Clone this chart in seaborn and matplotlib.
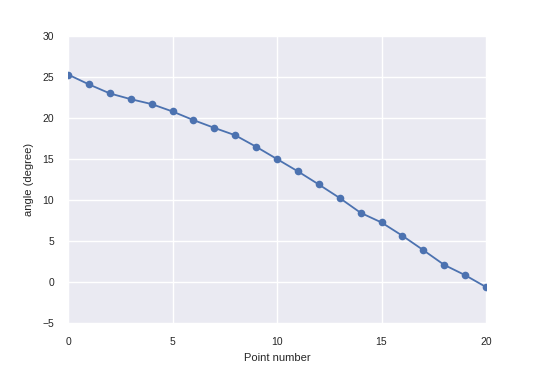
import matplotlib
matplotlib.use("Agg")
import matplotlib.pyplot as plt
import seaborn as sns
import pandas as pd

point_number = list(range(21))
angle = [25.3, 24.1, 23.0, 22.3, 21.7, 20.8, 19.75, 18.8, 17.9, 16.5, 15.0,
         13.5, 11.9, 10.25, 8.45, 7.27, 5.65, 3.9, 2.1, 0.85, -0.6]

sns.set_theme(style="darkgrid", rc={"axes.facecolor": "#EAEAF2"})
plt.rcParams['font.family'] = ['Liberation Sans', 'DejaVu Sans']

df = pd.DataFrame({"Point number": point_number, "angle (degree)": angle})

fig = plt.figure(figsize=(5.40, 3.71), dpi=100)
ax = fig.add_axes([0.126, 0.129, 0.774, 0.774])
sns.lineplot(data=df, x="Point number", y="angle (degree)", ax=ax,
             color="#4C72B0", linewidth=1.3, marker="o", markersize=5.5,
             markeredgewidth=0)
ax.set_xlim(0, 20)
ax.set_ylim(-5, 30)
ax.set_xticks([0, 5, 10, 15, 20])
ax.set_yticks([-5, 0, 5, 10, 15, 20, 25, 30])
ax.tick_params(labelsize=7.5, colors="#262626", pad=4)
ax.set_xlabel("Point number", fontsize=8, color="#262626", labelpad=4)
ax.set_ylabel("angle (degree)", fontsize=8, color="#262626", labelpad=6)
for s in ax.spines.values():
    s.set_visible(False)
fig.savefig("out.png", dpi=100, facecolor="white")
